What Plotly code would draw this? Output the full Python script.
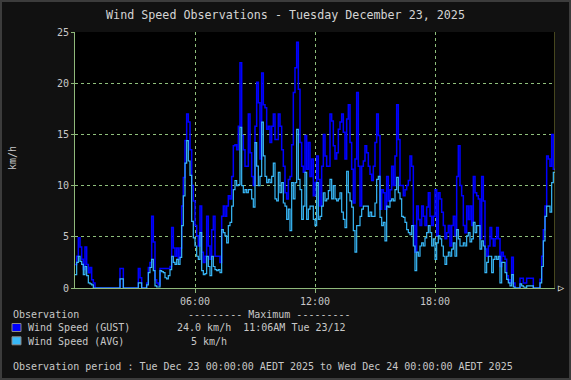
import numpy as np
import plotly.graph_objects as go

# Wind gust (km/h), 5-minute steps, one row per hour (00h..23h)
gust = [
    2.3, 3.1, 4.9, 4.0, 2.8, 1.8, 4.0, 2.3, 1.5, 2.0, 0.8, 0.5,
    0, 0, 0, 0, 0, 0, 0, 0, 0, 0, 0, 0,
    0, 0, 0, 1.9, 1.9, 0, 0, 0, 0, 0, 0, 0,
    0, 0, 1.9, 1.0, 0, 0, 0, 0.5, 2.0, 2.5, 7.0, 4.5,
    0.8, 0.5, 0.3, 1.9, 1.9, 1.9, 1.9, 1.9, 1.9, 2.1, 5.9, 3.9,
    3.1, 3.9, 2.8, 3.9, 8.0, 10.8, 14.4, 17.0, 16.2, 13.5, 10.0, 8.5,
    6.1, 5.1, 4.1, 8.0, 3.5, 2.5, 3.1, 7.0, 4.1, 2.8, 5.7, 7.0,
    3.1, 3.1, 3.1, 2.5, 7.0, 8.0, 7.0, 8.0, 9.0, 8.7, 10.9, 13.9,
    14.0, 13.5, 15.8, 22.0, 14.9, 13.5, 11.9, 11.9, 17.0, 13.2, 10.9, 10.0,
    15.8, 20.1, 18.1, 12.6, 21.0, 17.9, 17.6, 15.5, 15.8, 14.2, 15.8, 17.0,
    14.5, 14.5, 17.0, 15.8, 13.5, 11.9, 9.3, 8.7, 10.6, 10.9, 14.0, 19.1,
    21.5, 24.0, 19.4, 14.2, 11.9, 11.3, 14.9, 11.6, 14.2, 10.9, 12.6, 9.0,
    10.3, 12.9, 10.6, 8.0, 11.9, 15.0, 12.9, 11.9, 11.9, 17.0, 16.3, 13.9,
    12.6, 13.2, 15.5, 16.2, 17.0, 15.2, 12.6, 16.5, 17.9, 14.2, 11.6, 8.3,
    12.6, 19.1, 11.9, 8.0, 11.9, 12.4, 13.9, 13.2, 11.9, 11.1, 10.5, 11.9,
    14.2, 17.0, 14.9, 7.7, 9.6, 9.3, 7.7, 10.9, 8.5, 9.6, 11.9, 10.0,
    12.9, 17.9, 14.5, 10.0, 10.0, 9.0, 9.6, 10.0, 10.5, 12.9, 11.9, 6.1,
    3.5, 8.0, 6.7, 6.1, 8.0, 7.0, 6.1, 7.9, 9.3, 7.0, 6.1, 7.0,
    9.6, 5.1, 9.3, 8.7, 7.4, 6.1, 4.8, 5.4, 6.1, 4.1, 6.1, 7.0,
    5.1, 10.9, 13.9, 10.0, 9.0, 6.1, 5.4, 8.0, 6.7, 8.0, 6.1, 10.9,
    9.3, 9.0, 8.7, 4.8, 10.9, 8.5, 3.8, 3.1, 4.1, 5.9, 4.8, 4.1,
    4.8, 5.9, 4.8, 2.1, 3.5, 3.1, 2.8, 1.2, 0.8, 0.5, 3.0, 0.5,
    0, 0, 0, 0.95, 0.95, 0.5, 0.5, 0.95, 0.95, 0.95, 0.95, 0,
    0, 0, 0, 0.85, 3.1, 5.7, 8.0, 12.9, 12.6, 11.9, 15.0, 11.6,
]

# Average wind speed (km/h), same steps
avg = [
    1.3, 2.5, 3.1, 2.6, 2.3, 1.3, 2.1, 1.2, 0.5, 0.4, 0.3, 0.0,
    0, 0, 0, 0, 0, 0, 0, 0, 0, 0, 0, 0,
    0, 0, 0, 0.9, 0.9, 0, 0, 0, 0, 0, 0, 0,
    0, 0, 0.5, 0.5, 0, 0, 0, 0.3, 1.5, 2.0, 2.8, 1.7,
    0.2, 0.1, 0.1, 1.7, 1.6, 1.5, 1.0, 0.9, 1.2, 1.8, 3.1, 2.5,
    2.3, 2.8, 2.3, 3.0, 6.1, 9.0, 12.2, 14.4, 12.4, 11.0, 6.5, 4.9,
    4.1, 3.1, 2.8, 5.4, 1.7, 1.3, 1.4, 3.1, 2.1, 1.2, 3.1, 2.1,
    1.8, 1.7, 1.8, 1.5, 5.7, 5.4, 5.1, 4.4, 6.1, 6.4, 8.0, 9.6,
    10.5, 10.0, 10.1, 15.7, 10.0, 9.3, 9.6, 9.3, 9.6, 9.6, 8.7, 7.9,
    14.2, 11.9, 10.0, 10.9, 16.2, 12.9, 10.9, 10.3, 10.6, 10.3, 10.9, 12.2,
    8.7, 8.5, 11.3, 9.3, 10.3, 8.3, 8.0, 6.7, 7.7, 5.6, 10.3, 8.7,
    10.3, 15.5, 10.6, 9.6, 6.7, 8.0, 11.3, 6.7, 7.7, 8.0, 8.0, 6.7,
    6.1, 10.3, 6.7, 7.0, 8.0, 9.3, 8.5, 8.7, 9.5, 10.6, 8.7, 10.0,
    8.7, 8.5, 8.7, 9.3, 7.4, 6.7, 5.9, 11.4, 9.3, 8.5, 7.9, 5.6,
    3.5, 6.1, 6.1, 7.0, 7.7, 8.0, 8.0, 8.0, 7.0, 7.4, 7.0, 7.0,
    8.3, 10.6, 10.9, 6.9, 6.1, 6.4, 4.6, 8.0, 7.9, 8.5, 8.7, 8.5,
    9.6, 10.8, 9.3, 8.7, 7.0, 6.9, 6.4, 5.7, 5.4, 5.2, 6.1, 4.1,
    1.7, 3.5, 3.1, 4.1, 4.4, 4.1, 4.9, 5.4, 6.1, 5.4, 4.1, 4.8,
    2.8, 4.4, 5.1, 4.8, 4.1, 3.1, 2.3, 3.1, 3.5, 3.1, 3.8, 4.4,
    3.1, 5.7, 4.8, 4.1, 4.1, 4.4, 4.1, 5.1, 5.4, 4.5, 4.8, 6.4,
    5.4, 6.1, 6.1, 3.8, 4.6, 4.1, 1.5, 2.5, 3.1, 3.1, 1.5, 2.8,
    3.1, 2.8, 3.1, 0.5, 2.5, 2.5, 1.5, 0.85, 0.5, 0.2, 1.3, 0.1,
    0, 0, 0, 0.4, 0.2, 0.1, 0, 0.2, 0.2, 0.2, 0.2, 0,
    0, 0, 0, 0.5, 2.1, 4.6, 7.0, 8.0, 8.0, 7.4, 10.3, 11.3,
]

x_tickvals = [6, 12, 18]
x_ticktext = ["06:00", "12:00", "18:00"]
y_tickvals = [0, 5, 10, 15, 20, 25]

title_text = "Wind Speed Observations - Tuesday December 23, 2025"
gust_name = "Wind Speed (GUST)"
avg_name = "Wind Speed (AVG)"
gust_max_text = "24.0 km/h  11:06AM Tue 23/12"
avg_max_text = "5 km/h"
period_text = "Observation period : Tue Dec 23 00:00:00 AEDT 2025 to Wed Dec 24 00:00:00 AEDT 2025"

GUST_COLOR = "#0000ff"
AVG_COLOR = "#38b8f8"
GRID = "#8fbf7c"
AXIS = "#8fb87a"
TXT = "#c8c8c8"

hours = np.arange(len(gust) + 1) * 5 / 60.0
g = gust + [gust[-1]]
a = avg + [avg[-1]]

W, H = 571, 380
L, R, T, B = 75, 16, 32, 92
PW, PH = W - L - R, H - T - B


def px(x, y):
    return (x - L) / PW, (H - B - y) / PH


fig = go.Figure()
fig.add_trace(go.Scatter(x=hours, y=g, mode="lines", line=dict(color=GUST_COLOR, width=1.5, shape="hv"),
                         name=gust_name, hoverinfo="skip"))
fig.add_trace(go.Scatter(x=hours, y=a, mode="lines", line=dict(color=AVG_COLOR, width=1.2, shape="hv"),
                         name=avg_name, hoverinfo="skip"))

fig.update_layout(
    width=W, height=H,
    margin=dict(l=L, r=R, t=T, b=B),
    paper_bgcolor="#111111", plot_bgcolor="#000000",
    font=dict(family="DejaVu Sans Mono", size=10, color=TXT),
    showlegend=False,
    hovermode=False,
    title=dict(text=title_text, x=0.5, xanchor="center", y=1 - 15 / H, yanchor="middle",
               font=dict(family="DejaVu Sans Mono", size=11.7, color="#d4d4d4")),
)
fig.update_xaxes(range=[0, 24], tickvals=x_tickvals, ticktext=x_ticktext,
                 showgrid=True, gridcolor=GRID, griddash="dot", gridwidth=1,
                 showline=True, linecolor=AXIS, linewidth=1,
                 ticks="outside", ticklen=4, tickcolor=AXIS, zeroline=False,
                 tickfont=dict(size=10, color=TXT))
fig.update_yaxes(range=[0, 25], tickvals=y_tickvals,
                 showgrid=True, gridcolor=GRID, griddash="dot", gridwidth=1,
                 showline=True, linecolor=AXIS, linewidth=1,
                 ticks="outside", ticklen=3, tickcolor=AXIS, zeroline=False,
                 tickfont=dict(size=10, color=TXT))

# right edge of plot
fig.add_shape(type="line", xref="x", yref="paper", x0=24, x1=24, y0=0, y1=1,
              line=dict(color="#8c8c3c", width=1))
# outer frame
x0, y0 = px(1, H - 1)
x1, y1 = px(W - 1, 1)
fig.add_shape(type="rect", xref="paper", yref="paper", x0=x0, x1=x1, y0=y0, y1=y1,
              line=dict(color="#3c3c3c", width=2), layer="below")

ann = []


def text(x, y, s, anchor="left", size=10, color=TXT, angle=0):
    xp, yp = px(x, y)
    ann.append(dict(x=xp, y=yp, xref="paper", yref="paper", text=s, showarrow=False,
                    xanchor=anchor, yanchor="middle", textangle=angle,
                    font=dict(family="DejaVu Sans Mono", size=size, color=color)))


text(12, 158, "km/h", anchor="center", angle=-90)
text(561, 287, "▷", anchor="center", size=10, color="#ffffff")
text(11, 314.5, "Observation")
text(186, 314.5, "--------- Maximum ---------")
text(26, 327.5, gust_name)
text(175, 327.5, gust_max_text)
text(26, 341, avg_name)
text(229, 341, avg_max_text, anchor="right")
text(11, 366.5, period_text)
fig.update_layout(annotations=ann)

for yy, col in [(323.5, GUST_COLOR), (336.8, AVG_COLOR)]:
    sx0, sy0 = px(12, yy + 8)
    sx1, sy1 = px(21, yy)
    fig.add_shape(type="rect", xref="paper", yref="paper", x0=sx0, x1=sx1, y0=sy0, y1=sy1,
                  fillcolor=col, line=dict(color="#8a8a8a", width=1))

fig.write_html("out.html", config={"displayModeBar": False, "staticPlot": True},
               post_script="document.body.style.margin='0';document.body.style.overflow='hidden';")
